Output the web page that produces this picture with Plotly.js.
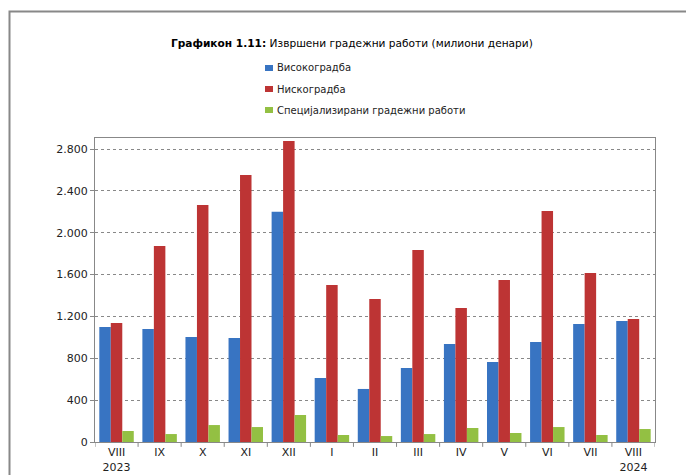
<!DOCTYPE html>
<html><head><meta charset="utf-8">
<script src="https://cdn.plot.ly/plotly-3.0.1.min.js"></script>
<style>html,body{margin:0;padding:0;background:#fff}#chart{width:686px;height:475px}</style>
</head><body><div id="chart"></div>
<script>
const categories = ["VIII<br>2023","IX","X","XI","XII","I","II","III","IV","V","VI","VII","VIII<br>2024"];
const seriesNames = ["Високоградба","Нискоградба","Специјализирани градежни работи"];
const visokogradba = [1100,1080,1004,994,2202,612,507,707,937,765,956,1128,1157];
const niskogradba = [1138,1874,2266,2552,2878,1500,1367,1835,1281,1549,2208,1616,1176];
const specijalizirani = [105,76,162,143,258,67,57,76,134,86,143,67,124];
const yTicks = [0,400,800,1200,1600,2000,2400,2800];
const colors = ["#3874C2","#BD3434","#93C043"];

const idx = categories.map((c,i)=>i);
const vals = [visokogradba, niskogradba, specijalizirani];
const traces = vals.map((v,k)=>({
  type:'bar', x: idx, y: v, name: seriesNames[k],
  marker:{color: colors[k], line:{width:0}}, hoverinfo:'y'
}));

// legend drawn with shapes + annotations (container px -> paper coords)
const PL=95, PW=560, PB=442, PH=304;
const px = x => (x-PL)/PW, py = y => (PB-y)/PH;
const legendY = [68, 89, 110];
const legendShapes = seriesNames.map((n,k)=>({type:'rect', xref:'paper', yref:'paper',
  x0:px(265), x1:px(273), y0:py(legendY[k]+3), y1:py(legendY[k]-3), line:{width:0}, fillcolor:colors[k]}));
const legendAnn = seriesNames.map((n,k)=>({xref:'paper', yref:'paper', x:px(275), y:py(legendY[k]),
  xanchor:'left', yanchor:'middle', showarrow:false, text:n,
  font:{family:'DejaVu Sans, sans-serif', size:10, color:'#222'}}));

const layout = {
  width:686, height:475,
  margin:{l:95, r:31, t:138, b:33},
  paper_bgcolor:'#fff', plot_bgcolor:'#fff',
  separators: ',.',
  font:{family:'DejaVu Sans, sans-serif', size:11, color:'#222'},
  barmode:'group', bargap:0.2, bargroupgap:0,
  title:{text:'<b>Графикон 1.11:</b> Извршени градежни работи (милиони денари)',
    xref:'container', yref:'container', x:0.513, xanchor:'center', y:1-43/475, yanchor:'middle',
    font:{family:'DejaVu Sans, sans-serif', size:10.6, color:'#000'}},
  showlegend:false,
  annotations: legendAnn,
  xaxis:{type:'linear', range:[-0.5,12.5], tickvals: idx, ticktext: categories,
    showgrid:false, zeroline:false, showline:true, linecolor:'#888', linewidth:1, mirror:true,
    ticks:'', tickfont:{size:11, color:'#222'}},
  yaxis:{range:[0,2906], tickvals:yTicks, tickformat:',d',
    showgrid:true, gridcolor:'#888', griddash:'dot', gridwidth:1,
    zeroline:false, showline:true, linecolor:'#888', linewidth:1, mirror:true,
    ticks:'outside', ticklen:4, tickcolor:'#888', tickfont:{size:11, color:'#222'}},
  shapes:[
    {type:'rect', xref:'paper', yref:'paper', x0:px(9.5), x1:1.5, y0:-0.5, y1:py(11.5),
     line:{color:'#888', width:2}, fillcolor:'rgba(0,0,0,0)'}
  ].concat(legendShapes)
   .concat(idx.slice(0,12).map(i=>({type:'line', xref:'x', yref:'paper', x0:i+0.5, x1:i+0.5, y0:0, y1:-0.016, line:{color:'#888', width:1}})))
   .concat([{type:'line', xref:'x', yref:'paper', x0:-0.5, x1:-0.5, y0:0, y1:-0.016, line:{color:'#888', width:1}},
            {type:'line', xref:'x', yref:'paper', x0:12.5, x1:12.5, y0:0, y1:-0.016, line:{color:'#888', width:1}}])
};
Plotly.newPlot('chart', traces, layout, {displayModeBar:false, staticPlot:true});
</script></body></html>
